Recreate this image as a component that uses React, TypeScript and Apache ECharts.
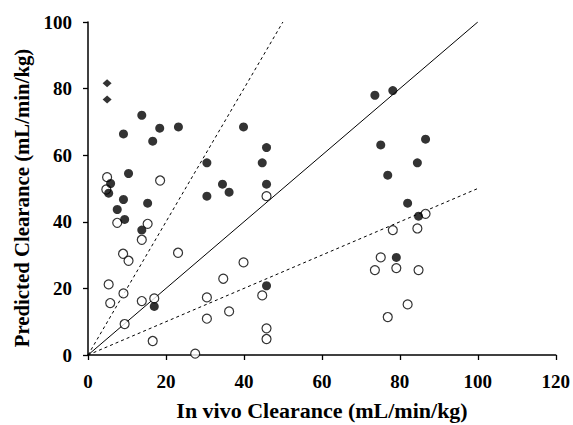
import React, { useEffect, useRef } from "react";
import * as echarts from "echarts";

// Filled markers: [in vivo, predicted]
const filledPoints: number[][] = [
  [4.9, 81.6], [4.9, 76.7], [13.8, 72.0], [9.1, 66.4], [18.4, 68.1],
  [23.2, 68.5], [16.6, 64.2], [39.9, 68.5], [45.8, 62.3], [30.5, 57.7],
  [44.7, 57.7], [10.4, 54.5], [5.8, 51.5], [5.3, 48.6], [34.5, 51.3],
  [36.2, 48.9], [30.5, 47.7], [45.8, 51.3], [9.1, 46.7], [7.5, 43.7],
  [15.3, 45.6], [9.4, 40.7], [13.8, 37.5], [17.0, 14.6], [45.8, 20.8],
  [73.6, 78.0], [78.2, 79.4], [75.1, 63.1], [86.6, 64.8], [76.9, 54.0],
  [84.5, 57.7], [82.0, 45.6], [84.8, 41.7], [79.1, 29.3],
];
// Points drawn as small diamonds
const diamondIdx: number[] = [0, 1];

// Open markers: [in vivo, predicted]
const openPoints: number[][] = [
  [4.9, 53.4], [4.7, 49.7], [7.5, 39.7], [15.3, 39.4], [18.5, 52.4],
  [13.8, 34.6], [9.0, 30.4], [10.4, 28.3], [23.1, 30.7], [5.3, 21.2],
  [5.7, 15.6], [9.1, 18.5], [13.8, 16.2], [17.0, 17.0], [9.4, 9.3],
  [16.6, 4.2], [27.5, 0.4], [30.5, 17.3], [30.5, 10.9], [34.7, 22.9],
  [36.2, 13.1], [39.9, 27.8], [44.7, 17.9], [45.8, 8.0], [45.8, 4.8],
  [45.8, 47.7], [73.6, 25.5], [75.1, 29.3], [76.9, 11.4], [78.2, 37.5],
  [79.1, 26.1], [82.0, 15.2], [84.5, 38.0], [84.8, 25.5], [86.6, 42.4],
];

// Reference lines: unity, 2-fold over, 2-fold under
const unityLine: number[][] = [[0, 0], [100, 100]];
const twoFoldOver: number[][] = [[0, 0], [50, 100]];
const twoFoldUnder: number[][] = [[0, 0], [100, 50]];

const xTitle = "In vivo Clearance (mL/min/kg)";
const yTitle = "Predicted Clearance (mL/min/kg)";

const FONT = "'Liberation Serif', 'Times New Roman', serif";

export default function App() {
  const ref = useRef<HTMLDivElement>(null);

  useEffect(() => {
    if (!ref.current) return;
    const chart = echarts.init(ref.current, undefined, { renderer: "svg" });

    const filledData = filledPoints.map((p, i) =>
      diamondIdx.includes(i)
        ? { value: p, symbol: "diamond", symbolSize: [9, 8] }
        : { value: p }
    );

    const axisText = {
      color: "#000",
      fontFamily: FONT,
      fontWeight: "bold" as const,
      fontSize: 19,
    };

    const titleStyle = {
      fill: "#000",
      font: `bold 20px ${FONT}`,
      align: "center" as const,
      verticalAlign: "middle" as const,
    };

    chart.setOption({
      animation: false,
      backgroundColor: "#fff",
      grid: { left: 88, top: 22, right: 16, bottom: 70, containLabel: false },
      graphic: [
        {
          type: "text",
          x: 322,
          y: 411,
          scaleX: 1.1,
          style: { ...titleStyle, text: xTitle },
        },
        {
          type: "text",
          x: 22,
          y: 198,
          rotation: Math.PI / 2,
          scaleX: 1.04,
          scaleY: 1.1,
          style: { ...titleStyle, text: yTitle },
        },
      ],
      xAxis: {
        type: "value",
        min: 0,
        max: 120,
        interval: 20,
        axisLine: { show: true, onZero: false, lineStyle: { color: "#000", width: 1.5 } },
        axisTick: { show: true, length: 5, lineStyle: { color: "#000", width: 1.3 } },
        axisLabel: { ...axisText, margin: 17 },
        splitLine: { show: false },
      },
      yAxis: {
        type: "value",
        min: 0,
        max: 100,
        interval: 20,
        axisLine: { show: true, onZero: false, lineStyle: { color: "#000", width: 1.5 } },
        axisTick: { show: true, length: 5, lineStyle: { color: "#000", width: 1.3 } },
        axisLabel: { ...axisText, margin: 16 },
        splitLine: { show: false },
      },
      series: [
        {
          type: "line",
          data: unityLine,
          symbol: "none",
          lineStyle: { color: "#000", width: 1 },
          z: 1,
        },
        {
          type: "line",
          data: twoFoldOver,
          symbol: "none",
          lineStyle: { color: "#000", width: 1, type: [3, 3] },
          z: 1,
        },
        {
          type: "line",
          data: twoFoldUnder,
          symbol: "none",
          lineStyle: { color: "#000", width: 1, type: [3, 3] },
          z: 1,
        },
        {
          type: "scatter",
          data: openPoints,
          symbol: "circle",
          symbolSize: 9,
          itemStyle: { color: "#fff", borderColor: "#000", borderWidth: 1.2 },
          z: 3,
        },
        {
          type: "scatter",
          data: filledData,
          symbol: "circle",
          symbolSize: 9,
          itemStyle: { color: "#000" },
          z: 4,
        },
      ],
    });

    return () => chart.dispose();
  }, []);

  return (
    <div
      ref={ref}
      style={{ position: "absolute", left: 0, top: 0, width: 573, height: 425, background: "#fff" }}
    />
  );
}
